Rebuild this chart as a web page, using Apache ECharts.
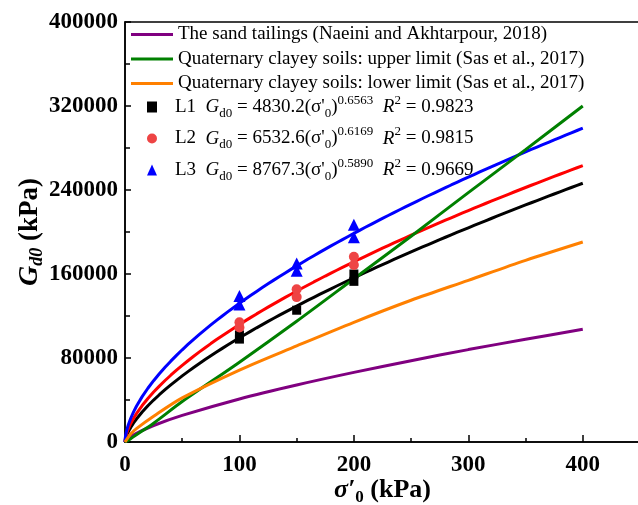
<!DOCTYPE html>
<html>
<head>
<meta charset="utf-8">
<script src="https://cdn.jsdelivr.net/npm/echarts@6/dist/echarts.min.js"></script>
<style>
  html, body { margin: 0; padding: 0; background: #fff; }
  #chart { width: 638px; height: 505px; }
</style>
</head>
<body>
<div id="chart"></div>
<script>
// Axis ticks
const xTickValues = [0, 100, 200, 300, 400];
const yTickValues = [0, 80000, 160000, 240000, 320000, 400000];

// Reference curves from the literature (σ'0 in kPa, Gd0 in kPa)
const sigmaRef = [0, 5, 10, 25, 50, 100, 150, 200, 250, 300, 350, 400];
const sandTailings = [0, 5000, 8300, 15700, 25300, 41000, 54300, 66300, 77400, 88000, 97800, 107300];
const clayUpper = [0, 3200, 6900, 17900, 38500, 76000, 115000, 155500, 196000, 237500, 278500, 320000];
const clayLower = [0, 7600, 12700, 24500, 42000, 68500, 91500, 114000, 135000, 154000, 173000, 190500];

const refNames = [
  'The sand tailings (Naeini and Akhtarpour, 2018)',
  'Quaternary clayey soils: upper limit (Sas et al., 2017)',
  'Quaternary clayey soils: lower limit (Sas et al., 2017)'
];

// Power-law fits Gd0 = a(σ'0)^b for the three test series
const fitNames = ['L1', 'L2', 'L3'];
const fitCoef = [4830.2, 6532.6, 8767.3];
const fitExp = [0.6563, 0.6169, 0.5890];
const fitR2 = ['0.9823', '0.9815', '0.9669'];

// Measured points [σ'0, Gd0]
const pointsL1 = [[100, 98000], [100, 102000], [150, 125500], [200, 153000], [200, 160000]];
const pointsL2 = [[100, 109000], [100, 114000], [150, 138000], [150, 145500], [200, 168500], [200, 176500]];
const pointsL3 = [[100, 131000], [100, 139000], [150, 163000], [150, 170000], [200, 195000], [200, 207000]];

const FONT = '"Liberation Serif", "Times New Roman", serif';

function fitCurve(i) {
  const xs = [0, 0.25, 0.5, 1, 2, 3, 5, 7.5, 10];
  for (let s = 15; s <= 400; s += 5) xs.push(s);
  return xs.map(s => [s, fitCoef[i] * Math.pow(s, fitExp[i])]);
}

const pair = (xs, ys) => xs.map((x, i) => [x, ys[i]]);

const refColors = ['#800080', '#008000', '#ff8000'];
const fitColors = ['#000000', '#ff0000', '#0000ff'];
const pointColors = ['#000000', '#ee4444', '#0000ff'];
const pointSymbols = ['rect', 'circle', 'triangle'];
const pointSizes = [9, 10, 12];
const pointSets = [pointsL1, pointsL2, pointsL3];

const series = [];
fitNames.forEach((n, i) => {
  series.push({
    name: 'fit ' + n, type: 'line', data: fitCurve(i), showSymbol: false,
    lineStyle: { color: fitColors[i], width: 3 }, itemStyle: { color: fitColors[i] },
    silent: true, z: 2
  });
});
[sandTailings, clayUpper, clayLower].forEach((ys, i) => {
  series.push({
    name: refNames[i], type: 'line', data: pair(sigmaRef, ys), smooth: 0.3, showSymbol: false,
    lineStyle: { color: refColors[i], width: 3 }, itemStyle: { color: refColors[i] },
    silent: true, z: 3
  });
});
pointSets.forEach((pts, i) => {
  series.push({
    name: fitNames[i], type: 'scatter', data: pts, symbol: pointSymbols[i], symbolSize: pointSizes[i],
    itemStyle: { color: pointColors[i], opacity: 1 }, z: 5
  });
});

const txt = { fontFamily: FONT, fontSize: 19, color: '#000', lineHeight: 26, verticalAlign: 'middle' };
const lead = Object.assign({}, txt, { padding: [0, 0, 0, 13] });
const ital = Object.assign({}, txt, { fontStyle: 'italic' });
const sup = { fontFamily: FONT, fontSize: 13, color: '#000', lineHeight: 26, verticalAlign: 'top' };
const sub = { fontFamily: FONT, fontSize: 13, color: '#000', lineHeight: 26, verticalAlign: 'bottom' };

const option = {
  animation: false,
  backgroundColor: '#fff',
  grid: {
    left: 125, top: 22, right: -2, bottom: 63,
    show: true, borderColor: '#000', borderWidth: 1.5,
    containLabel: false, outerBoundsMode: 'none'
  },
  legend: [
    {
      data: refNames.map(n => ({ name: n, icon: 'rect' })),
      orient: 'vertical', left: 131, top: 25, padding: 0,
      itemWidth: 42, itemHeight: 3, itemGap: 5.5,
      selectedMode: false,
      textStyle: { fontFamily: FONT, fontSize: 19, color: '#000' }
    },
    {
      data: fitNames.map((n, i) => ({ name: n, icon: pointSymbols[i] })),
      orient: 'vertical', left: 147, top: 94, padding: 0,
      itemWidth: 10, itemHeight: 11, itemGap: 5.5,
      selectedMode: false,
      textStyle: { fontFamily: FONT, fontSize: 19, color: '#000',
        rich: { lead: lead, t: txt, i: ital, sup: sup, sub: sub } },
      formatter: function (name) {
        const i = fitNames.indexOf(name);
        return '{lead|' + name + '  }{i|G}{sub|d0}{t| = ' + fitCoef[i].toFixed(1) + "(σ'}{sub|0}{t|)}{sup|" +
          fitExp[i].toFixed(4) + '}{t|  }{i|R}{sup|2}{t| = ' + fitR2[i] + '}';
      }
    }
  ],
  xAxis: {
    type: 'value', min: 0, max: 450, interval: 100,
    name: "{s|σ′}{sub|0}{t| (kPa)}", nameLocation: 'middle', nameGap: 32, nameMoveOverlap: false,
    nameTextStyle: {
      rich: {
        s: { fontFamily: FONT, fontSize: 26, fontWeight: 'bold', fontStyle: 'italic', color: '#000', lineHeight: 32, verticalAlign: 'middle' },
        sub: { fontFamily: FONT, fontSize: 17, fontWeight: 'bold', color: '#000', lineHeight: 32, verticalAlign: 'bottom' },
        t: { fontFamily: FONT, fontSize: 26, fontWeight: 'bold', color: '#000', lineHeight: 32, verticalAlign: 'middle' }
      }
    },
    axisLine: { lineStyle: { color: '#000', width: 1.5 } },
    axisTick: { inside: true, length: 7, lineStyle: { color: '#000', width: 1.5 } },
    minorTick: { show: true, splitNumber: 2, length: 4, lineStyle: { color: '#000', width: 1.5 } },
    splitLine: { show: false },
    axisLabel: {
      fontFamily: FONT, fontSize: 23, fontWeight: 'bold', color: '#000', margin: 12,
      formatter: v => (xTickValues.indexOf(v) >= 0 ? String(v) : '')
    }
  },
  yAxis: {
    type: 'value', min: 0, max: 400000, interval: 80000,
    name: '{g|G}{s|d0}{t| (kPa)}', nameLocation: 'middle', nameGap: 79, nameRotate: 90, nameMoveOverlap: false,
    nameTextStyle: {
      rich: {
        g: { fontFamily: FONT, fontSize: 28, fontWeight: 'bold', fontStyle: 'italic', color: '#000', lineHeight: 32, verticalAlign: 'middle' },
        s: { fontFamily: FONT, fontSize: 18, fontWeight: 'bold', fontStyle: 'italic', color: '#000', lineHeight: 32, verticalAlign: 'bottom' },
        t: { fontFamily: FONT, fontSize: 27, fontWeight: 'bold', color: '#000', lineHeight: 32, verticalAlign: 'middle' }
      }
    },
    axisLine: { show: true, lineStyle: { color: '#000', width: 1.5 } },
    axisTick: { show: true, inside: true, length: 6, lineStyle: { color: '#000', width: 1.5 } },
    minorTick: { show: true, splitNumber: 2, length: 5, lineStyle: { color: '#000', width: 1.5 } },
    splitLine: { show: false },
    axisLabel: {
      fontFamily: FONT, fontSize: 23, fontWeight: 'bold', color: '#000', margin: 7,
      formatter: v => (yTickValues.indexOf(v) >= 0 ? String(v) : '')
    }
  },
  series: series
};

const chart = echarts.init(document.getElementById('chart'), null, { renderer: 'canvas' });
chart.setOption(option);
</script>
</body>
</html>
